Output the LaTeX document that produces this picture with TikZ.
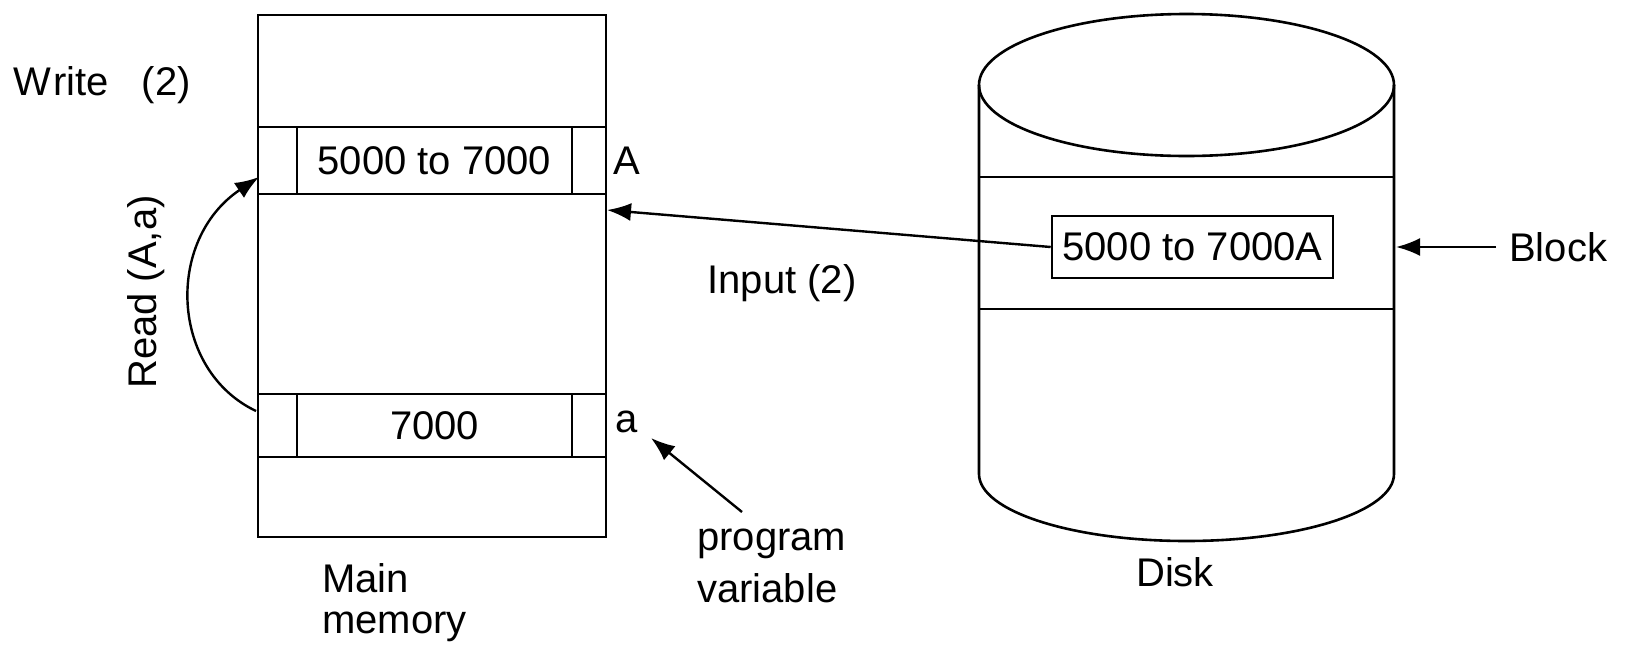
\documentclass[tikz,border=0pt]{standalone}
\usepackage{fontspec}
\setmainfont{Liberation Sans}
\usetikzlibrary{arrows.meta}
\begin{document}
\begin{tikzpicture}[x=1pt,y=-1pt,
  line width=2.6pt,
  lbl/.style={inner sep=0pt,font=\fontsize{40}{52}\selectfont},
  arr/.style={-{Latex[length=24pt,width=18pt]},line width=2.4pt}]
\useasboundingbox (0,0) rectangle (1633,646);
% main memory
\draw (258,15) rectangle (606,537);
\foreach \y in {127,194,394,457} \draw (258,\y) -- (606,\y);
\draw (297,127) -- (297,194) (572,127) -- (572,194);
\draw (297,394) -- (297,457) (572,394) -- (572,457);
\node[lbl] (cellA) at (434.5,161) {5000 to 7000};
\node[lbl] (cella) at (434.5,426) {7000};
\node[lbl,anchor=west] (labA) at (612,161) {A};
\node[lbl,anchor=west] (laba) at (614,422) {a};
\node[lbl,anchor=west] (write) at (12,85) {W\kern2pt rite\ \ \ (2)};
\node[lbl,anchor=north west,align=left,font=\fontsize{40}{41}\selectfont] (mm) at (321,562) {Main\\memory};
% read arc
\coordinate (rdS) at (256,411);
\coordinate (rdE) at (259,177);
\draw[arr] (rdS) .. controls (170,370) and (165,240) .. (rdE);
\node[lbl,rotate=90] (rd) at (146,292) {Read (A,a)};
% disk
\draw (1186.5,85) ellipse (207.5 and 71);
\draw (979,85) -- (979,474) arc (180:0:207.5 and 67) -- (1394,85);
\draw (979,177) -- (1394,177) (979,309) -- (1394,309);
\node[lbl,draw,minimum width=281pt,minimum height=62pt] (dbox) at (1192.5,247) {5000 to 7000A};
\node[lbl] (disk) at (1175,572) {Disk};
% input arrow
\coordinate (inTip) at (607,210);
\draw[arr] (dbox.west) -- (inTip);
\node[lbl] (input) at (782,283) {Input\ (2)};
% block
\node[lbl,anchor=west] (block) at (1508,247) {Block};
\coordinate (blkTip) at (1396,247);
\path (block.west) ++(-12,0) coordinate (blkS);
\draw[arr] (blkS) -- (blkTip);
% program variable
\node[lbl,anchor=north west,align=left] (pv) at (696,528) {program\\variable};
\coordinate (pvS) at (742,512);
\coordinate (pvE) at (651,438);
\draw[arr] (pvS) -- (pvE);
\end{tikzpicture}
\end{document}
